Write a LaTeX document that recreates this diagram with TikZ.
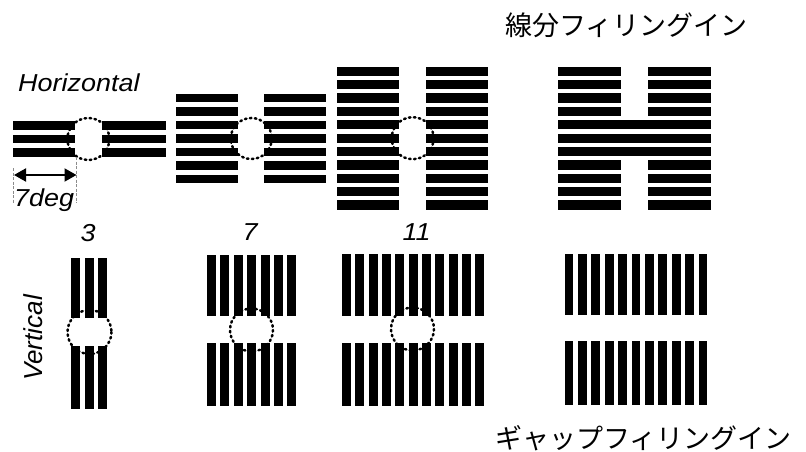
\documentclass[tikz,border=0pt]{standalone}
\usepackage{fontspec}
\setmainfont{Liberation Sans}
\newfontfamily\jp{Noto Sans CJK JP}
\usetikzlibrary{arrows.meta}
\begin{document}
\begin{tikzpicture}[x=1pt,y=-1pt,
  ring/.style={draw=black, line width=2.5pt, dash pattern=on 1.6pt off 3.4pt, line cap=round},
  lab/.style={font=\fontsize{24.5}{28}\selectfont\itshape, inner sep=0pt, xscale=1.1},
  jptext/.style={font=\jp\fontsize{27}{32}\selectfont, inner sep=0pt},
  guide/.style={draw=black!45, line width=0.6pt, dash pattern=on 3pt off 1.5pt},
  dim/.style={line width=2pt, {Triangle[length=12pt,width=13pt]}-{Triangle[length=12pt,width=13pt]}}]
\useasboundingbox (0,0) rectangle (806,452);
\fill[white] (0,0) rectangle (806,452);

% ---- dotted circles (drawn under the bars) ----
\draw[ring] (88.4,139) circle (21);
\draw[ring] (251.3,138.5) circle (20.5);
\draw[ring] (412.7,138.2) circle (21);
\draw[ring] (89.5,332) circle (22);
\draw[ring] (251.5,330) circle (21.5);
\draw[ring] (412.5,329) circle (21.5);

% ---- horizontal groups ----
\foreach \k in {-1,0,1} {
  \fill (12.7,{139+\k*13.4-4.4}) rectangle (75,{139+\k*13.4+4.4});
  \fill (101.7,{139+\k*13.4-4.4}) rectangle (165.7,{139+\k*13.4+4.4});
}
\foreach \k in {-3,...,3} {
  \fill (176,{138.5+\k*13.5-4.4}) rectangle (238.3,{138.5+\k*13.5+4.4});
  \fill (264.3,{138.5+\k*13.5-4.4}) rectangle (326,{138.5+\k*13.5+4.4});
}
\foreach \k in {-5,...,5} {
  \fill (336.7,{138.2+\k*13.37-4.6}) rectangle (399.3,{138.2+\k*13.37+4.6});
  \fill (426,{138.2+\k*13.37-4.6}) rectangle (488.3,{138.2+\k*13.37+4.6});
}
\foreach \k in {-5,-4,-3,-2,2,3,4,5} {
  \fill (558.3,{138.2+\k*13.37-4.6}) rectangle (621,{138.2+\k*13.37+4.6});
  \fill (647.7,{138.2+\k*13.37-4.6}) rectangle (710.7,{138.2+\k*13.37+4.6});
}
\foreach \k in {-1,0,1} {
  \fill (558.3,{138.2+\k*13.37-4.6}) rectangle (710.7,{138.2+\k*13.37+4.6});
}

% ---- vertical groups ----
\foreach \k in {-1,0,1} {
  \fill ({89+\k*13.2-4.5},258) rectangle ({89+\k*13.2+4.5},318);
  \fill ({89+\k*13.2-4.5},346) rectangle ({89+\k*13.2+4.5},409);
}
\foreach \k in {-3,...,3} {
  \fill ({251.7+\k*13.37-4.5},254.5) rectangle ({251.7+\k*13.37+4.5},316);
  \fill ({251.7+\k*13.37-4.5},343) rectangle ({251.7+\k*13.37+4.5},405.5);
}
\foreach \k in {-5,...,5} {
  \fill ({413.2+\k*13.34-4.5},254) rectangle ({413.2+\k*13.34+4.5},316);
  \fill ({413.2+\k*13.34-4.5},342.7) rectangle ({413.2+\k*13.34+4.5},405.5);
}
\foreach \k in {-5,...,5} {
  \fill ({636+\k*13.4-4.4},253.5) rectangle ({636+\k*13.4+4.4},315);
  \fill ({636+\k*13.4-4.4},341) rectangle ({636+\k*13.4+4.4},405);
}

% ---- dimension arrow ----
\draw[guide] (13,168) -- (13,203);
\draw[guide] (76.5,157) -- (76.5,203);
\coordinate (da) at (14,175);
\coordinate (db) at (76.5,175);
\draw[dim] (da) -- (db);

% ---- labels ----
\node[lab, anchor=base west] (horiz) at (18,92) {Horizontal};
\node[lab, anchor=base west] (deg) at (14,206.7) {7deg};
\node[lab, anchor=base] (n3) at (88,241.5) {3};
\node[lab, anchor=base] (n7) at (250,240) {7};
\node[lab, anchor=base] (n11) at (416.5,240) {11};
\node[font=\fontsize{26}{28}\selectfont\itshape, inner sep=0pt, rotate=90] (vert) at (33,338) {Vertical};
\node[jptext, anchor=west] (top) at (505,25) {線分フィリングイン};
\node[jptext, anchor=west] (bot) at (495,438.5) {ギャップフィリングイン};
\end{tikzpicture}
\end{document}
